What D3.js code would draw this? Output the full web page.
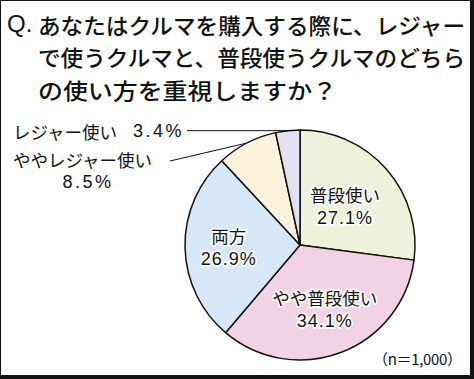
<!DOCTYPE html>
<html>
<head>
<meta charset="utf-8">
<script src="https://cdn.jsdelivr.net/npm/d3@7"></script>
<style>
  html, body { margin: 0; padding: 0; background: #fff; }
  svg text { font-family: "Noto Sans CJK JP", "Noto Sans", sans-serif; fill: #111; }
  svg .num { font-family: "Liberation Sans", Arial, sans-serif; }
</style>
</head>
<body>
<div id="chart"></div>
<script>
'use strict';

// data
var titleLines = [
  'あなたはクルマを購入する際に、レジャー',
  'で使うクルマと、普段使うクルマのどちら',
  'の使い方を重視しますか？'
];
var labels = ['普段使い', 'やや普段使い', '両方', 'ややレジャー使い', 'レジャー使い'];
var values = [27.1, 34.1, 26.9, 8.5, 3.4];
var colors = ['#eef2da', '#f2d3e6', '#d6e7f8', '#fdf3dc', '#e1e1f2'];
var note = '（n＝1,000）';

var W = 474, H = 379;
var cx = 300, cy = 245, R = 115;

var svg = d3.select('#chart').append('svg')
  .attr('width', W)
  .attr('height', H);

svg.append('rect')
  .attr('x', 0.5).attr('y', 0.5)
  .attr('width', W - 4).attr('height', H - 4)
  .attr('fill', '#fff')
  .attr('stroke', '#111')
  .attr('stroke-width', 1);
// heavy shadow edge right and bottom
svg.append('rect').attr('x', W - 4).attr('y', 0).attr('width', 4).attr('height', H).attr('fill', '#111');
svg.append('rect').attr('x', 0).attr('y', H - 4).attr('width', W).attr('height', 4).attr('fill', '#111');

function putText(g, str, x, y, size, anchor) {
  return g.append('text')
    .attr('transform', 'translate(' + x + ',' + y + ')')
    .attr('text-anchor', anchor || 'start')
    .attr('dominant-baseline', 'central')
    .style('font-size', size + 'px')
    .text(str);
}

function pct(v) { return v.toFixed(1) + '%'; }

// title
var title = svg.append('g');
putText(title, 'Q.', 7, 23.5, 24).style('font-family', 'Arial, "Liberation Sans", sans-serif');
var titleY = [23.5, 56, 88.5];
var titleW = [427, 427, 299];
titleLines.forEach(function(t, i) {
  putText(title, t, 38, titleY[i], 22).style('font-weight', 500)
    .attr('textLength', titleW[i]).attr('lengthAdjust', 'spacingAndGlyphs');
});

// pie
var pie = d3.pie().sort(null).value(function(d) { return d; });
var arcs = pie(values);
var arc = d3.arc().innerRadius(0).outerRadius(R);

var g = svg.append('g').attr('transform', 'translate(' + cx + ',' + cy + ')');

g.selectAll('path.slice')
  .data(arcs)
  .enter().append('path')
  .attr('class', 'slice')
  .attr('d', arc)
  .attr('fill', function(d, i) { return colors[i]; })
  .attr('stroke', '#111')
  .attr('stroke-width', 1.5)
  .attr('stroke-linejoin', 'round');

// labels inside the big slices
var inside = { 0: 0.52, 1: 0.6, 2: 0.62 };
var labelG = svg.append('g');
arcs.forEach(function(d, i) {
  if (inside[i] === undefined) return;
  var a = (d.startAngle + d.endAngle) / 2;
  var r = R * inside[i];
  var x = cx + r * Math.sin(a);
  var y = cy - r * Math.cos(a);
  var t1 = putText(labelG, labels[i], x, y - 11.5, 17.5, 'middle');
  var t2 = putText(labelG, pct(values[i]), x, y + 12, 18, 'middle')
    .attr('class', 'num').style('letter-spacing', '1px');
  [t1, t2].forEach(function(t) {
    t.attr('stroke', '#fff').attr('stroke-width', 3.5)
      .attr('paint-order', 'stroke').attr('stroke-linejoin', 'round');
  });
});

// small slices: labels on the left with leader lines
var outer = d3.arc().innerRadius(R).outerRadius(R);
var lineG = svg.append('g');

var p4 = outer.centroid(arcs[4]);
lineG.append('line')
  .attr('x1', 187).attr('y1', cy + p4[1])
  .attr('x2', cx + p4[0]).attr('y2', cy + p4[1])
  .attr('stroke', '#111').attr('stroke-width', 1);
putText(labelG, labels[4], 13, cy + p4[1] + 0.5, 17.5);
putText(labelG, pct(values[4]), 133, cy + p4[1] + 0.5, 18)
  .attr('class', 'num').style('letter-spacing', '2.5px');

var p3 = outer.centroid(arcs[3]);
lineG.append('line')
  .attr('x1', 170).attr('y1', 161)
  .attr('x2', cx + p3[0]).attr('y2', cy + p3[1])
  .attr('stroke', '#111').attr('stroke-width', 1);
putText(labelG, labels[3], 13, 159.5, 17.5);
putText(labelG, pct(values[3]), 88, 181.5, 18, 'middle')
  .attr('class', 'num').style('letter-spacing', '2.5px');

// sample size
putText(svg, note, 462, 358, 15, 'end')
  .attr('textLength', 89).attr('lengthAdjust', 'spacing');
</script>
</body>
</html>
